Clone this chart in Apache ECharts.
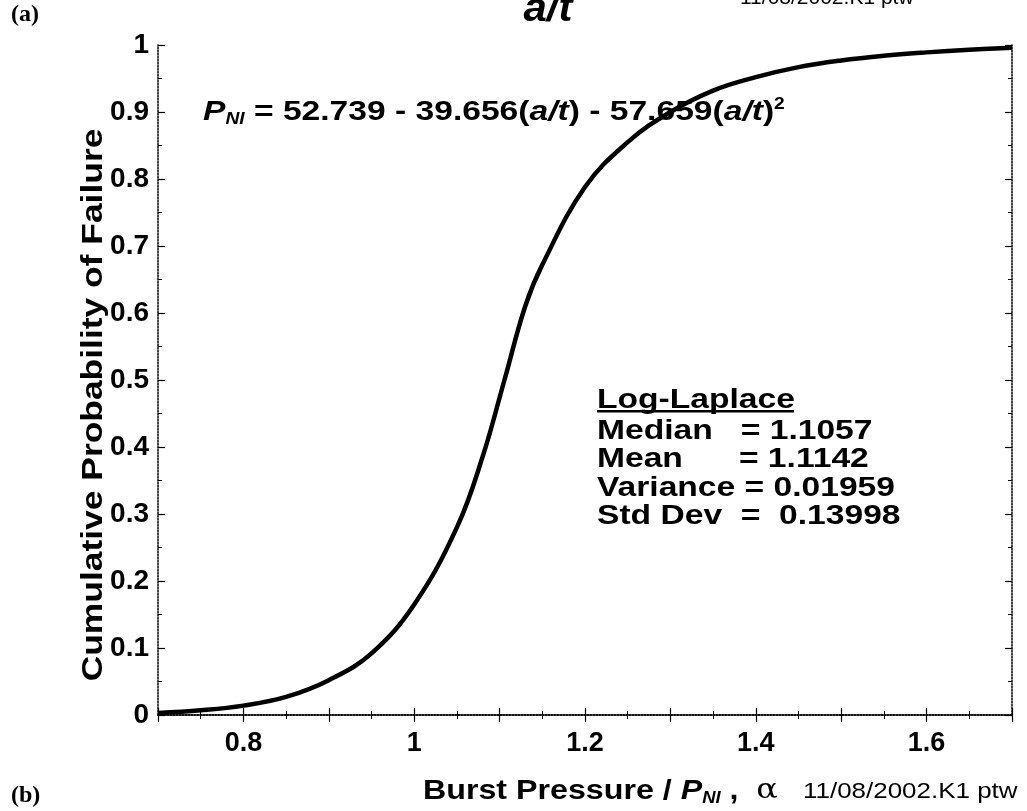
<!DOCTYPE html>
<html>
<head>
<meta charset="utf-8">
<script src="https://cdn.jsdelivr.net/npm/echarts@6/dist/echarts.min.js"></script>
<style>html,body{margin:0;padding:0;background:#fff}#c{width:1027px;height:811px}</style>
</head>
<body>
<div id="c"></div>
<script>
// Data
var burstRatio = [0.70, 0.75, 0.80, 0.85, 0.90, 0.95, 1.00, 1.05, 1.08, 1.1057, 1.13, 1.15, 1.20, 1.25, 1.30, 1.35, 1.40, 1.45, 1.50, 1.55, 1.60, 1.65, 1.70];
var cumProb    = [0.003, 0.007, 0.014, 0.027, 0.052, 0.092, 0.165, 0.28, 0.385, 0.50, 0.61, 0.672, 0.788, 0.855, 0.90, 0.932, 0.952, 0.967, 0.977, 0.984, 0.989, 0.993, 0.996];
var xTickLabels = {'0.8': '0.8', '1.0': '1', '1.2': '1.2', '1.4': '1.4', '1.6': '1.6'};
var yTickLabels = ['0', '0.1', '0.2', '0.3', '0.4', '0.5', '0.6', '0.7', '0.8', '0.9', '1'];
var statsTitle = 'Log-Laplace';
var statsLines = ['Median   = 1.1057', 'Mean      = 1.1142', 'Variance = 0.01959', 'Std Dev  =  0.13998'];

var pts = burstRatio.map(function (x, i) { return [x, cumProb[i]]; });
var F = 'Arial, "Liberation Sans", Helvetica, sans-serif';
var chart = echarts.init(document.getElementById('c'));
var axisLine = {show: true, lineStyle: {color: '#000', width: 1.5, type: 'dotted'}};
var tickIn = {show: true, inside: true, length: 7, lineStyle: {color: '#000', width: 1.2}};
var minorIn = {show: true, splitNumber: 2, length: 4, lineStyle: {color: '#000', width: 1}};

chart.setOption({
  animation: false,
  backgroundColor: '#fff',
  grid: {left: 158, right: 15, top: 45, bottom: 96, containLabel: false},
  xAxis: [{
    type: 'value', min: 0.7, max: 1.7, interval: 0.1, position: 'bottom',
    axisLine: axisLine, axisTick: tickIn, minorTick: minorIn, splitLine: {show: false},
    axisLabel: {color: '#000', fontFamily: F, fontWeight: 'bold', fontSize: 27, margin: 15,
      formatter: function (v) { var k = v.toFixed(1); return xTickLabels[k] || ''; }}
  }, {
    type: 'value', min: 0.7, max: 1.7, interval: 0.1, position: 'top',
    axisLine: axisLine, axisTick: tickIn, minorTick: minorIn, splitLine: {show: false},
    axisLabel: {show: false}
  }],
  yAxis: [{
    type: 'value', min: 0, max: 1, interval: 0.1, position: 'left',
    axisLine: axisLine, axisTick: tickIn, minorTick: minorIn, splitLine: {show: false},
    axisLabel: {color: '#000', fontFamily: F, fontWeight: 'bold', fontSize: 28, margin: 9,
      formatter: function (v) { return yTickLabels[Math.round(v * 10)]; }}
  }, {
    type: 'value', min: 0, max: 1, interval: 0.1, position: 'right',
    axisLine: axisLine, axisTick: tickIn, minorTick: minorIn, splitLine: {show: false},
    axisLabel: {show: false}
  }],
  series: [{
    type: 'line', data: pts, smooth: 0.4, showSymbol: false, clip: true,
    lineStyle: {color: '#000', width: 4.5}
  }],
  graphic: [
    {type: 'text', left: 11, top: 3, style: {text: '(a)', font: 'bold 24px "Liberation Serif", "Times New Roman", serif', fill: '#000'}},
    {type: 'text', left: 11, top: 784, style: {text: '(b)', font: 'bold 24px "Liberation Serif", "Times New Roman", serif', fill: '#000'}},
    {type: 'text', x: 548, y: 10, scaleX: 1.05, style: {text: 'a/t', font: 'italic bold 40px ' + F, fill: '#000', align: 'center', verticalAlign: 'middle'}},
    {type: 'text', x: 740, y: -12, style: {text: '11/08/2002.K1 ptw', font: '21px ' + F, fill: '#000', align: 'left', verticalAlign: 'top'}},
    {type: 'text', x: 94, y: 405, rotation: Math.PI / 2, scaleX: 1.18,
      style: {text: 'Cumulative Probability of Failure', font: 'bold 30px ' + F, fill: '#000', align: 'center', verticalAlign: 'middle'}},
    {type: 'text', x: 203, y: 112, scaleX: 1.2,
      style: {
        text: '{pi|P}{sub|NI}{n| = 52.739 - 39.656(}{i|a/t}{n|) - 57.659(}{i|a/t}{n|)}{sup|2}',
        verticalAlign: 'middle', fill: '#000',
        rich: {
          pi: {font: 'italic bold 28px ' + F, fill: '#000', lineHeight: 32},
          n: {font: 'bold 28px ' + F, fill: '#000', lineHeight: 32},
          i: {font: 'italic bold 28px ' + F, fill: '#000', lineHeight: 32},
          sub: {font: 'italic bold 16px ' + F, fill: '#000', padding: [15, 0, 0, 0], lineHeight: 17},
          sup: {font: 'bold 16px ' + F, fill: '#000', padding: [0, 0, 15, 0], lineHeight: 17}
        }
      }},
    {type: 'text', x: 597, y: 386, scaleX: 1.2,
      style: {text: statsTitle, font: 'bold 28px ' + F, fill: '#000', verticalAlign: 'top'}},
    {type: 'rect', shape: {x: 597, y: 410, width: 197, height: 2.5}, style: {fill: '#000'}},
    {type: 'text', x: 597, y: 417, scaleX: 1.2,
      style: {text: statsLines.join('\n'), font: 'bold 28px ' + F, fill: '#000', lineHeight: 28.5, verticalAlign: 'top'}},
    {type: 'text', x: 423, y: 791, scaleX: 1.15,
      style: {
        text: '{n|Burst Pressure / }{pi|P}{sub|NI}{n| ,  }{a|α}',
        verticalAlign: 'middle', fill: '#000',
        rich: {
          n: {font: 'bold 28px ' + F, fill: '#000', lineHeight: 32},
          pi: {font: 'italic bold 28px ' + F, fill: '#000', lineHeight: 32},
          sub: {font: 'italic bold 16px ' + F, fill: '#000', padding: [15, 0, 0, 0], lineHeight: 17},
          a: {font: '28px "DejaVu Serif", serif', fill: '#000', lineHeight: 32}
        }
      }},
    {type: 'text', x: 803, y: 792, scaleX: 1.18,
      style: {text: '11/08/2002.K1 ptw', font: '22px ' + F, fill: '#000', verticalAlign: 'middle'}}
  ]
});
</script>
</body>
</html>
